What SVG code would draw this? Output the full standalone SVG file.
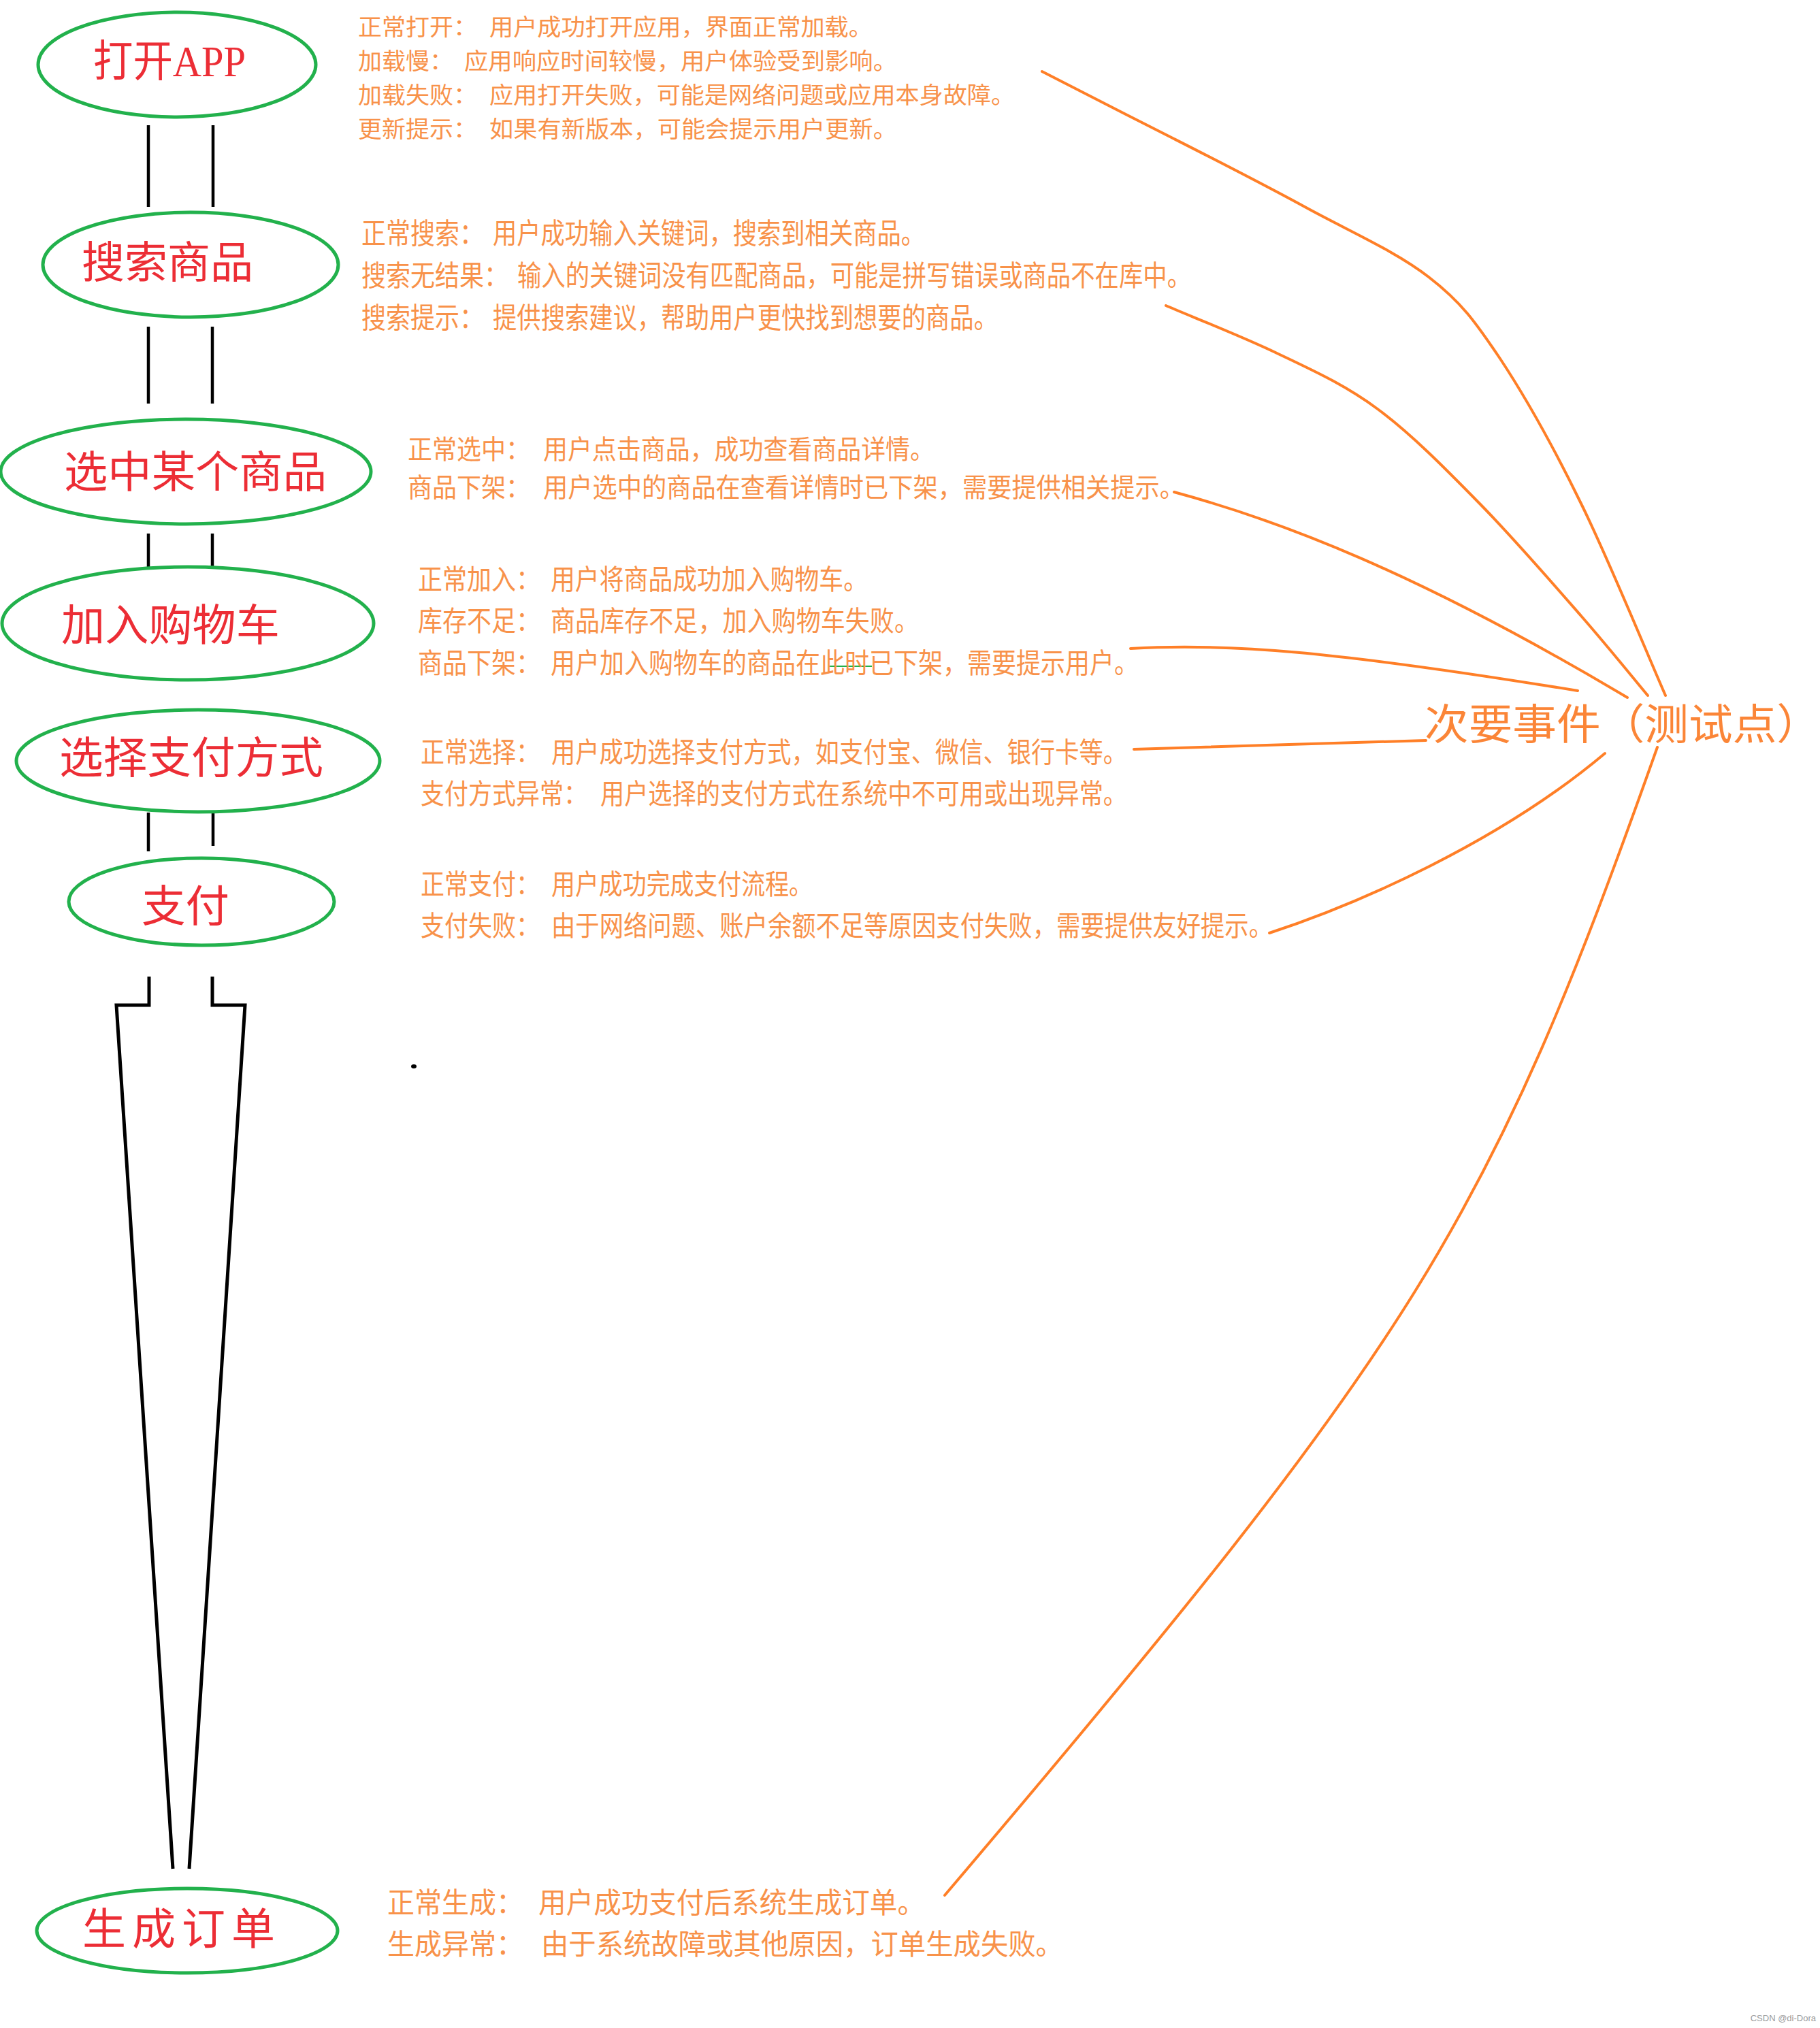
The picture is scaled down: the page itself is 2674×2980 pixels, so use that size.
<svg xmlns="http://www.w3.org/2000/svg" width="2674" height="2980" viewBox="0 0 2674 2980">
<style>
.bg{fill:#fff}
.node ellipse{fill:none;stroke:#22b14c;stroke-width:5}
.nt{font-family:"Liberation Serif","Noto Sans CJK SC",serif;font-size:64px;fill:#ec2d35;dominant-baseline:central}
.dt{font-family:"Noto Sans CJK SC","Liberation Sans",sans-serif;fill:#f8924a;dominant-baseline:central}
.conn{stroke:#000;stroke-width:4.5;fill:none}
.funnel{stroke:#000;stroke-width:5;fill:none}
.oc{stroke:#ff7f27;stroke-width:4;fill:none;stroke-linecap:round}
.big{font-family:"Noto Sans CJK SC",serif;font-size:62px;fill:#fb8537;dominant-baseline:central}
.wm{font-family:"Liberation Sans",sans-serif;font-size:13px;fill:#9a9a9a}
</style>
<rect class="bg" x="0" y="0" width="2674" height="2980"/>

<g id="connectors">
  <line class="conn" x1="218" y1="184" x2="218" y2="304"/>
  <line class="conn" x1="313" y1="184" x2="313" y2="304"/>
  <line class="conn" x1="218" y1="480" x2="218" y2="593"/>
  <line class="conn" x1="312" y1="480" x2="312" y2="593"/>
  <line class="conn" x1="218" y1="784" x2="218" y2="833"/>
  <line class="conn" x1="312" y1="784" x2="312" y2="833"/>
  <line class="conn" x1="218" y1="1194" x2="218" y2="1251"/>
  <line class="conn" x1="313" y1="1194" x2="313" y2="1243"/>
  <path class="funnel" d="M219,1435 V1477 H171 L254,2746"/>
  <path class="funnel" d="M312,1435 V1477 H360 L278,2746"/>
  <line x1="1217" y1="979" x2="1281" y2="979" stroke="#22b14c" stroke-width="2"/>
  <ellipse cx="608" cy="1567" rx="4" ry="3" fill="#000"/>
</g>

<g id="test-links">
  <path class="oc" d="M1531,105 C1563,122 1660,171 1725,204 C1790,237 1857,271 1919,305 C1981,339 2052,370 2099,407 C2147,444 2167,472 2204,527 C2241,583 2283,658 2323,740 C2364,823 2426,975 2447,1022"/>
  <path class="oc" d="M1713,449 C1740,461 1822,493 1874,518 C1926,543 1974,564 2024,601 C2074,638 2124,689 2174,740 C2224,791 2282,858 2323,905 C2364,952 2405,1003 2421,1022"/>
  <path class="oc" d="M1725,723 C1880,765 2080,840 2391,1025"/>
  <path class="oc" d="M1661,953 C1800,945 1950,955 2318,1015"/>
  <path class="oc" d="M1666,1101 L2095,1088"/>
  <path class="oc" d="M1865,1371 C1990,1330 2200,1240 2358,1107"/>
  <path class="oc" d="M2435,1098 C2187,1798 2083,1967 1388,2785"/>
</g>

<g id="node-open-app" class="node">
  <ellipse cx="260" cy="95" rx="204" ry="77"/>
  <text class="nt" x="137" y="90" textLength="224" lengthAdjust="spacingAndGlyphs">打开APP</text>
</g>
<g id="node-search" class="node">
  <ellipse cx="280" cy="389" rx="217" ry="77"/>
  <text class="nt" x="120" y="386" textLength="252" lengthAdjust="spacingAndGlyphs">搜索商品</text>
</g>
<g id="node-select" class="node">
  <ellipse cx="273" cy="693" rx="272" ry="77"/>
  <text class="nt" x="94" y="694" textLength="386" lengthAdjust="spacingAndGlyphs">选中某个商品</text>
</g>
<g id="node-cart" class="node">
  <ellipse cx="276" cy="916" rx="273" ry="83"/>
  <text class="nt" x="90" y="919" textLength="321" lengthAdjust="spacingAndGlyphs">加入购物车</text>
</g>
<g id="node-paymethod" class="node">
  <ellipse cx="291" cy="1118" rx="267" ry="75"/>
  <text class="nt" x="87" y="1114" textLength="388" lengthAdjust="spacingAndGlyphs">选择支付方式</text>
</g>
<g id="node-pay" class="node">
  <ellipse cx="296" cy="1325" rx="195" ry="64"/>
  <text class="nt" x="208" y="1332" textLength="129" lengthAdjust="spacingAndGlyphs">支付</text>
</g>
<g id="node-order" class="node">
  <ellipse cx="275" cy="2837" rx="221" ry="62"/>
  <text class="nt" x="121" y="2835" font-size="62" textLength="283" lengthAdjust="spacing">生成订单</text>
</g>

<g id="note-open-app" class="dt" font-size="34">
  <text x="526" y="37" textLength="175" lengthAdjust="spacingAndGlyphs">正常打开：</text>
  <text x="719" y="37" textLength="563" lengthAdjust="spacingAndGlyphs">用户成功打开应用，界面正常加载。</text>
  <text x="526" y="87" textLength="140" lengthAdjust="spacingAndGlyphs">加载慢：</text>
  <text x="682" y="87" textLength="636" lengthAdjust="spacingAndGlyphs">应用响应时间较慢，用户体验受到影响。</text>
  <text x="526" y="137" textLength="175" lengthAdjust="spacingAndGlyphs">加载失败：</text>
  <text x="719" y="137" textLength="772" lengthAdjust="spacingAndGlyphs">应用打开失败，可能是网络问题或应用本身故障。</text>
  <text x="526" y="187" textLength="175" lengthAdjust="spacingAndGlyphs">更新提示：</text>
  <text x="719" y="187" textLength="599" lengthAdjust="spacingAndGlyphs">如果有新版本，可能会提示用户更新。</text>
</g>

<g id="note-search" class="dt" font-size="42">
  <text x="531" y="339" textLength="180" lengthAdjust="spacingAndGlyphs">正常搜索：</text>
  <text x="724" y="339" textLength="635" lengthAdjust="spacingAndGlyphs">用户成功输入关键词，搜索到相关商品。</text>
  <text x="531" y="401" textLength="216" lengthAdjust="spacingAndGlyphs">搜索无结果：</text>
  <text x="760" y="401" textLength="990" lengthAdjust="spacingAndGlyphs">输入的关键词没有匹配商品，可能是拼写错误或商品不在库中。</text>
  <text x="531" y="463" textLength="180" lengthAdjust="spacingAndGlyphs">搜索提示：</text>
  <text x="724" y="463" textLength="742" lengthAdjust="spacingAndGlyphs">提供搜索建议，帮助用户更快找到想要的商品。</text>
</g>

<g id="note-select" class="dt" font-size="38.5">
  <text x="599" y="657" textLength="180" lengthAdjust="spacingAndGlyphs">正常选中：</text>
  <text x="798" y="657" textLength="575" lengthAdjust="spacingAndGlyphs">用户点击商品，成功查看商品详情。</text>
  <text x="599" y="713" textLength="180" lengthAdjust="spacingAndGlyphs">商品下架：</text>
  <text x="798" y="713" textLength="942" lengthAdjust="spacingAndGlyphs">用户选中的商品在查看详情时已下架，需要提供相关提示。</text>
</g>

<g id="note-cart" class="dt" font-size="40.5">
  <text x="614" y="848" textLength="180" lengthAdjust="spacingAndGlyphs">正常加入：</text>
  <text x="809" y="848" textLength="466" lengthAdjust="spacingAndGlyphs">用户将商品成功加入购物车。</text>
  <text x="614" y="909" textLength="180" lengthAdjust="spacingAndGlyphs">库存不足：</text>
  <text x="809" y="909" textLength="541" lengthAdjust="spacingAndGlyphs">商品库存不足，加入购物车失败。</text>
  <text x="614" y="971" textLength="180" lengthAdjust="spacingAndGlyphs">商品下架：</text>
  <text x="809" y="971" textLength="864" lengthAdjust="spacingAndGlyphs">用户加入购物车的商品在此时已下架，需要提示用户。</text>
</g>

<g id="note-paymethod" class="dt" font-size="40.5">
  <text x="618" y="1102" textLength="175" lengthAdjust="spacingAndGlyphs">正常选择：</text>
  <text x="810" y="1102" textLength="846" lengthAdjust="spacingAndGlyphs">用户成功选择支付方式，如支付宝、微信、银行卡等。</text>
  <text x="618" y="1163" textLength="245" lengthAdjust="spacingAndGlyphs">支付方式异常：</text>
  <text x="882" y="1163" textLength="774" lengthAdjust="spacingAndGlyphs">用户选择的支付方式在系统中不可用或出现异常。</text>
</g>

<g id="note-pay" class="dt" font-size="41">
  <text x="618" y="1296" textLength="175" lengthAdjust="spacingAndGlyphs">正常支付：</text>
  <text x="810" y="1296" textLength="384" lengthAdjust="spacingAndGlyphs">用户成功完成支付流程。</text>
  <text x="618" y="1357" textLength="175" lengthAdjust="spacingAndGlyphs">支付失败：</text>
  <text x="810" y="1357" textLength="1060" lengthAdjust="spacingAndGlyphs">由于网络问题、账户余额不足等原因支付失败，需要提供友好提示。</text>
</g>

<g id="note-order" class="dt" font-size="42">
  <text x="569" y="2792" textLength="200" lengthAdjust="spacingAndGlyphs">正常生成：</text>
  <text x="791" y="2792" textLength="568" lengthAdjust="spacingAndGlyphs">用户成功支付后系统生成订单。</text>
  <text x="569" y="2853" textLength="200" lengthAdjust="spacingAndGlyphs">生成异常：</text>
  <text x="795" y="2853" textLength="767" lengthAdjust="spacingAndGlyphs">由于系统故障或其他原因，订单生成失败。</text>
</g>

<g id="node-test-points">
  <text class="big" x="2093" y="1060" textLength="582" lengthAdjust="spacingAndGlyphs">次要事件（测试点）</text>
</g>

<text class="wm" x="2668" y="2970" text-anchor="end">CSDN @di-Dora</text>
</svg>
